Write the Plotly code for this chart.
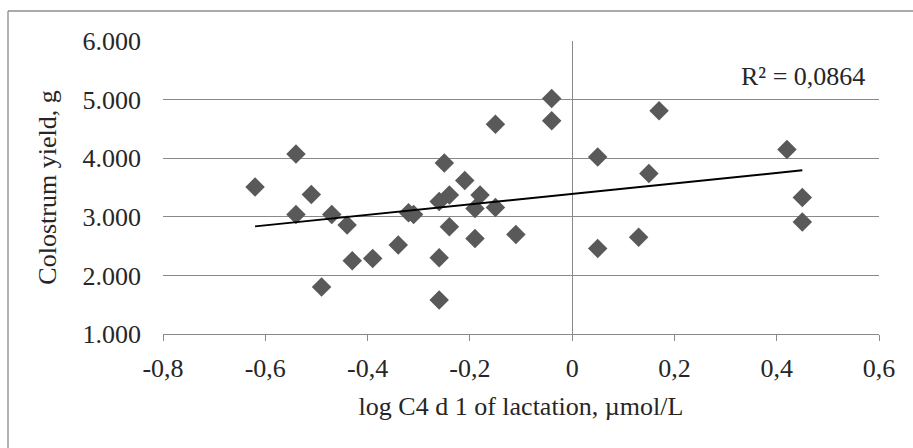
import numpy as np
import plotly.graph_objects as go

# data
log_c4 = [-0.62, -0.54, -0.51, -0.54, -0.47, -0.44, -0.43, -0.49, -0.39, -0.34,
          -0.32, -0.31, -0.26, -0.25, -0.24, -0.24, -0.26, -0.26, -0.21, -0.18,
          -0.19, -0.19, -0.15, -0.15, -0.11, -0.04, -0.04, 0.05, 0.05, 0.17,
          0.15, 0.13, 0.42, 0.45, 0.45]
colostrum = [3.51, 4.07, 3.38, 3.04, 3.04, 2.86, 2.25, 1.80, 2.29, 2.52,
             3.07, 3.04, 3.26, 3.92, 3.37, 2.83, 2.30, 1.58, 3.62, 3.37,
             3.14, 2.63, 3.16, 4.58, 2.70, 5.02, 4.64, 4.02, 2.46, 4.81,
             3.74, 2.65, 4.15, 3.33, 2.91]
x_tick_vals = [-0.8, -0.6, -0.4, -0.2, 0, 0.2, 0.4, 0.6]
x_tick_text = ["-0,8", "-0,6", "-0,4", "-0,2", "0", "0,2", "0,4", "0,6"]
y_tick_vals = [1, 2, 3, 4, 5, 6]
y_tick_text = ["1.000", "2.000", "3.000", "4.000", "5.000", "6.000"]
r2_label = "R² = 0,0864"

slope, intercept = np.polyfit(log_c4, colostrum, 1)
tx = [min(log_c4), max(log_c4)]
ty = [slope * v + intercept for v in tx]

FONT = "Liberation Serif"
TXT = "#262626"
GRID = "#898989"

fig = go.Figure()
fig.add_trace(go.Scatter(
    x=log_c4, y=colostrum, mode="markers",
    marker=dict(symbol="diamond", size=15, color="#595959", line=dict(width=0)),
    showlegend=False, hoverinfo="x+y"))
fig.add_trace(go.Scatter(
    x=tx, y=ty, mode="lines", line=dict(color="black", width=2),
    showlegend=False, hoverinfo="skip"))

fig.add_annotation(x=0.577, y=5.39, xref="x", yref="y", text=r2_label,
                   showarrow=False, xanchor="right", yanchor="middle",
                   font=dict(family=FONT, size=26, color=TXT))

# chart border (left and top edges visible)
W, H = 913, 448
L, R, T, B = 163, 34, 41, 114
pw, ph = W - L - R, H - T - B
bx = (8 - L) / pw
by = 1 + (T - 11) / ph
fig.add_shape(type="line", xref="paper", yref="paper", x0=bx, x1=bx, y0=by, y1=-(B + 5) / ph,
              line=dict(color="#8c8c8c", width=1.3))
fig.add_shape(type="line", xref="paper", yref="paper", x0=bx, x1=1 + (R + 5) / pw, y0=by, y1=by,
              line=dict(color="#8c8c8c", width=1.3))

fig.update_layout(
    width=W, height=H,
    margin=dict(l=L, r=R, t=T, b=B),
    paper_bgcolor="white", plot_bgcolor="white",
    font=dict(family=FONT, size=26, color=TXT),
    xaxis=dict(range=[-0.8, 0.6], tickvals=x_tick_vals, ticktext=x_tick_text,
               showgrid=False, zeroline=True, zerolinecolor=GRID, zerolinewidth=1.3,
               showline=True, linecolor=GRID, linewidth=1.3,
               ticks="outside", ticklen=6, tickcolor=GRID, tickwidth=1.3,
               ticklabelstandoff=5,
               tickfont=dict(family=FONT, size=26, color=TXT),
               title=dict(text="log C4 d 1 of lactation, µmol/L",
                          font=dict(family=FONT, size=26, color=TXT), standoff=14)),
    yaxis=dict(range=[1, 6], tickvals=y_tick_vals, ticktext=y_tick_text,
               showgrid=True, gridcolor=GRID, gridwidth=1.3,
               zeroline=False, showline=False, ticks="",
               ticklabelstandoff=21,
               tickfont=dict(family=FONT, size=26, color=TXT),
               title=dict(text="Colostrum yield, g",
                          font=dict(family=FONT, size=26, color=TXT), standoff=18)),
)

fig.write_html("out.html")
